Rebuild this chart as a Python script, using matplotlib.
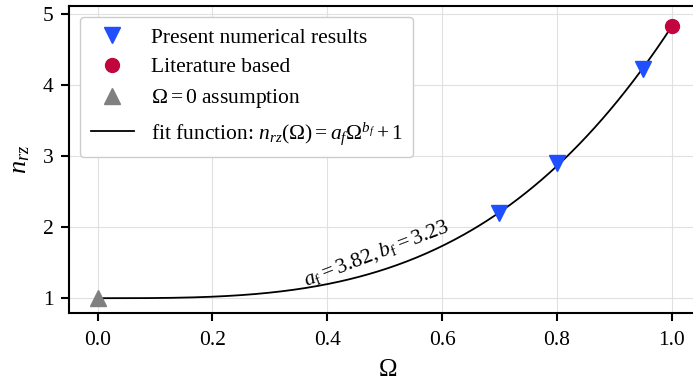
import matplotlib
matplotlib.use("Agg")
import matplotlib.pyplot as plt
import numpy as np

# data
omega_num = [0.7, 0.8, 0.95]
n_num = [2.2, 2.9, 4.22]
omega_lit = [1.0]
n_lit = [4.83]
omega_zero = [0.0]
n_zero = [1.0]
a_f = 3.82
b_f = 3.23

plt.rcParams['font.family'] = ['Liberation Serif', 'DejaVu Serif']
plt.rcParams['mathtext.fontset'] = 'custom'
plt.rcParams['mathtext.rm'] = 'Liberation Serif'
plt.rcParams['mathtext.it'] = 'Liberation Serif:italic'
plt.rcParams['mathtext.bf'] = 'Liberation Serif:bold'

fig = plt.figure(figsize=(6.93, 3.80), dpi=100)
ax = fig.add_axes([0.0996, 0.176, 0.92, 0.808])

x_fit = np.linspace(0, 1, 300)
ax.plot(x_fit, a_f * x_fit**b_f + 1, 'k-', lw=1.3, zorder=2,
        label=r'fit function: $n_{rz}(\Omega)=a_f\Omega^{b_f}+1$')
ax.plot(omega_num, n_num, 'v', color='#1f4fff', ms=11, ls='none', zorder=3,
        label='Present numerical results')
ax.plot(omega_lit, n_lit, 'o', color='#c2053f', ms=10, ls='none', zorder=3,
        label='Literature based')
ax.plot(omega_zero, n_zero, '^', color='#808080', ms=11, ls='none', zorder=3,
        label=r'$\Omega=0$ assumption')

ax.text(0.485, 1.63, r'$a_\mathrm{f}=3.82, b_\mathrm{f}=3.23$', rotation=21,
        ha='center', va='center', fontsize=15.5)

ax.set_xlim(-0.05, 1.061)
ax.set_ylim(0.79, 5.11)
ax.set_xticks([0.0, 0.2, 0.4, 0.6, 0.8, 1.0])
ax.set_yticks([1, 2, 3, 4, 5])
ax.grid(True, color='#e0e0e0', lw=0.8)
ax.set_axisbelow(True)
for s in ax.spines.values():
    s.set_linewidth(1.5)
ax.tick_params(direction='out', length=6, width=1.5, labelsize=15.5)
ax.tick_params(axis='x', pad=7)
ax.tick_params(axis='y', pad=5)
ax.set_xlabel(r'$\Omega$', fontsize=18, labelpad=6)
ax.set_ylabel(r'$n_{rz}$', fontsize=19, labelpad=8)

h, l = ax.get_legend_handles_labels()
order = [1, 2, 3, 0]
ax.legend([h[i] for i in order], [l[i] for i in order], loc='upper left',
          fontsize=15.5, framealpha=1, edgecolor='#cccccc', borderpad=0.5,
          handlelength=2.0, labelspacing=0.45)

fig.savefig('out.png', dpi=100)
